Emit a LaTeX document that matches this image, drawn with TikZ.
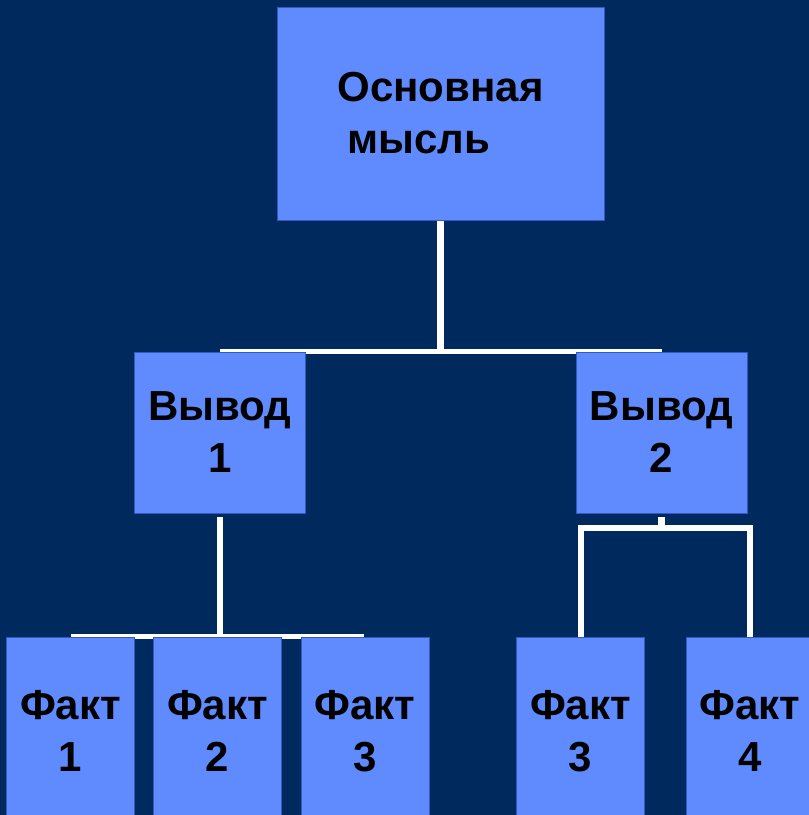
\documentclass[tikz,border=0pt]{standalone}
\usepackage{fontspec}
\setmainfont{Liberation Sans}
\definecolor{bg}{RGB}{0,42,94}
\definecolor{boxfill}{RGB}{96,139,255}
\definecolor{boxline}{RGB}{50,90,190}
\pgfdeclarelayer{back}
\pgfsetlayers{back,main}
\begin{document}
\begin{tikzpicture}[x=1pt,y=-1pt,
  box/.style={draw=boxline, line width=1pt, fill=boxfill, inner sep=0pt, align=center,
    font=\fontsize{42}{52}\selectfont\bfseries, text=black},
  topbox/.style={box, minimum width=327pt, minimum height=213pt},
  midbox/.style={box, minimum width=171pt, minimum height=161pt},
  factbox/.style={box, minimum width=128pt, minimum height=188pt},
  conn/.style={draw=white, line width=6pt},
  bus/.style={draw=white, line width=5pt},
 ]
\useasboundingbox (0,0) rectangle (809,815);
\clip (0,0) rectangle (809,815);
\begin{pgfonlayer}{back}
\fill[bg] (0,0) rectangle (809,815);
\end{pgfonlayer}

\node[topbox, align=left] (main) at (440.5,113.5) {Основная\\\hspace*{10pt}мысль};
\node[midbox] (v1) at (220,432.5) {Вывод\\1};
\node[midbox] (v2) at (661.5,432.5) {Вывод\\2};
\node[factbox] (f1) at (70.5,731) {Факт\\1};
\node[factbox] (f2) at (217.5,731) {Факт\\2};
\node[factbox] (f3) at (365,731) {Факт\\3};
\node[factbox] (f3b) at (580.5,731) {Факт\\3};
\node[factbox] (f4) at (750,731) {Факт\\4};

\coordinate (busA) at (440.5,351.5);
\coordinate (busAL) at (220,351.5);
\coordinate (busAR) at (662,351.5);
\coordinate (busBL) at (71,636.5);
\coordinate (busBR) at (364,636.5);
\coordinate (brL) at (580,527.5);

\begin{pgfonlayer}{back}
\draw[conn, line width=7pt] (main.south) -- (busA);
\draw[bus] (busAL) -- (busAR);
\draw[conn] ([yshift=-3pt]v1.south) -- (v1.south |- busBL);
\draw[bus] (busBL) -- (busBR);
\draw[conn, line width=7pt] ([yshift=-3pt]v2.south) -- (v2.south |- brL);
\draw[conn, line join=miter] (f3b.north) -- (f3b.north |- brL) -- (f4.north |- brL) -- (f4.north);
\end{pgfonlayer}
\end{tikzpicture}
\end{document}
